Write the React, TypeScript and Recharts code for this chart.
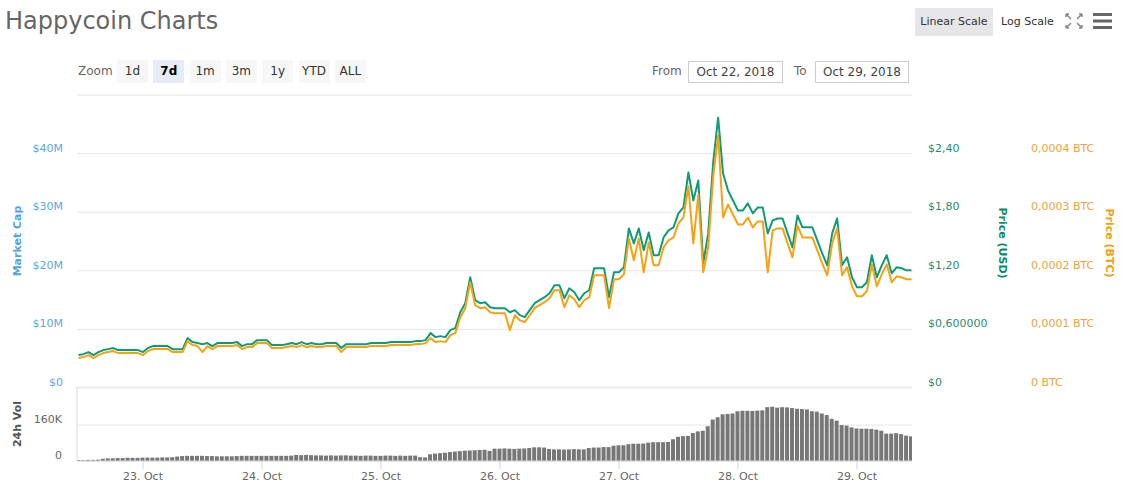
import React from 'react';
import { ComposedChart, Line, Bar, XAxis, YAxis, CartesianGrid } from 'recharts';

const FONT = '"DejaVu Sans", Verdana, sans-serif';

// hourly samples, hour 0 = 22 Oct 00:00
const startHour = 11;

// Price (USD), one value per hour from 22 Oct 11:00 to 29 Oct 11:00
const usdPrice = [
  0.337, 0.347, 0.368, 0.337, 0.368, 0.388, 0.398, 0.409, 0.388, 0.388,
  0.388, 0.388, 0.388, 0.368, 0.409, 0.429, 0.429, 0.429, 0.429, 0.398,
  0.398, 0.398, 0.511, 0.470, 0.460, 0.449, 0.460, 0.429, 0.460, 0.460,
  0.460, 0.460, 0.470, 0.429, 0.449, 0.449, 0.490, 0.490, 0.490, 0.439,
  0.439, 0.439, 0.449, 0.460, 0.449, 0.470, 0.449, 0.460, 0.449, 0.449,
  0.460, 0.460, 0.460, 0.409, 0.449, 0.449, 0.449, 0.449, 0.449, 0.460,
  0.460, 0.460, 0.460, 0.470, 0.470, 0.470, 0.470, 0.470, 0.480, 0.480,
  0.490, 0.562, 0.521, 0.531, 0.521, 0.592, 0.613, 0.776, 0.868, 1.134,
  0.899, 0.868, 0.878, 0.827, 0.817, 0.817, 0.817, 0.776, 0.797, 0.746,
  0.725, 0.797, 0.868, 0.899, 0.930, 0.970, 1.052, 1.052, 0.919, 1.021,
  0.981, 0.899, 0.970, 1.001, 1.226, 1.226, 1.226, 0.930, 1.185, 1.185,
  1.236, 1.634, 1.481, 1.634, 1.410, 1.593, 1.359, 1.359, 1.542, 1.614,
  1.645, 1.788, 1.849, 2.206, 1.920, 2.125, 1.277, 1.583, 2.308, 2.768,
  2.196, 2.022, 1.920, 1.818, 1.818, 1.890, 1.788, 1.849, 1.849, 1.583,
  1.716, 1.736, 1.736, 1.583, 1.440, 1.767, 1.645, 1.645, 1.645, 1.512,
  1.379, 1.256, 1.583, 1.736, 1.256, 1.338, 1.134, 1.032, 1.032, 1.083,
  1.359, 1.134, 1.256, 1.359, 1.175, 1.236, 1.226, 1.205, 1.205,
];

// Price (BTC) in satoshi
const btcSat = [
  5110, 5280, 5620, 5110, 5620, 5960, 6130, 6300, 5960, 5960,
  5960, 5960, 5960, 5620, 6300, 6640, 6640, 6640, 6640, 6130,
  6130, 6130, 8000, 7320, 7150, 6130, 7150, 6640, 7150, 7150,
  7150, 7150, 7320, 6640, 6980, 6980, 7660, 7660, 7660, 6810,
  6810, 6810, 6980, 7150, 6980, 7320, 6980, 7150, 6980, 6980,
  7150, 7150, 7150, 6130, 6980, 6980, 6980, 6980, 6980, 7150,
  7150, 7150, 7150, 7320, 7320, 7320, 7320, 7320, 7490, 7490,
  7660, 8510, 7830, 8000, 7830, 9020, 9360, 12080, 13620, 18040,
  14130, 13620, 13790, 12940, 12770, 12770, 12770, 9870, 12420, 11570,
  11230, 12420, 13620, 14130, 14640, 15320, 16680, 16680, 13790, 15830,
  15150, 13790, 14980, 15490, 19230, 19230, 19230, 13620, 18550, 18550,
  19400, 25530, 21790, 25530, 19740, 24850, 20930, 20930, 24000, 25190,
  25700, 28080, 29100, 34380, 24680, 33020, 19740, 24000, 36080, 43060,
  29100, 31320, 29610, 27910, 27910, 29100, 27400, 28420, 28420, 19740,
  26890, 27230, 27230, 24680, 22300, 27740, 25700, 25700, 25700, 23490,
  21280, 19230, 24680, 27230, 19230, 20590, 17360, 15660, 15660, 16510,
  21100, 17360, 19400, 21100, 18040, 19060, 18890, 18550, 18550,
];

// 24h volume, thousands
const volumeK = [
  4, 4, 5, 5, 6, 10, 12, 12, 13, 13,
  14, 14, 14, 15, 15, 15, 15, 16, 16, 17,
  20, 22, 23, 23, 23, 23, 22, 22, 21, 21,
  21, 21, 22, 23, 23, 23, 23, 23, 23, 23,
  23, 23, 23, 24, 27, 26, 27, 26, 25, 25,
  24, 25, 24, 25, 25, 24, 24, 23, 24, 24,
  23, 23, 24, 24, 23, 24, 23, 24, 24, 17,
  16, 30, 33, 35, 37, 40, 42, 44, 46, 47,
  48, 49, 50, 45, 55, 55, 56, 55, 54, 55,
  56, 58, 61, 61, 60, 54, 52, 52, 51, 52,
  53, 52, 52, 58, 60, 60, 62, 62, 68, 70,
  70, 75, 77, 77, 78, 82, 84, 84, 84, 85,
  97, 108, 111, 112, 125, 132, 135, 155, 185, 195,
  208, 210, 212, 222, 224, 224, 223, 225, 226, 240,
  242, 238, 240, 239, 236, 233, 232, 230, 222, 220,
  212, 205, 188, 180, 160, 158, 150, 145, 144, 144,
  143, 140, 135, 122, 122, 124, 120, 113, 110,
];

// the market cap scale shares its gridlines with the USD scale
const mcTickLabels = ['$0', '$10M', '$20M', '$30M', '$40M'];
const usdTicks = [0, 0.6, 1.2, 1.8, 2.4, 3.0];
const usdTickLabels = ['$0', '$0,600000', '$1,20', '$1,80', '$2,40'];
const btcTicks = [0, 10000, 20000, 30000, 40000, 50000];
const btcTickLabels = ['0 BTC', '0,0001 BTC', '0,0002 BTC', '0,0003 BTC', '0,0004 BTC'];
const volTicks = [0, 160000, 330000];
const volTickLabels = ['0', '160K'];
const dayTicks = [24, 48, 72, 96, 120, 144, 168];
const dayLabels = ['23. Oct', '24. Oct', '25. Oct', '26. Oct', '27. Oct', '28. Oct', '29. Oct'];
const zoomButtons = ['1d', '7d', '1m', '3m', '1y', 'YTD', 'ALL'];

const GREEN = '#0f9b78';
const ORANGE = '#f6a213';
const BLUE = '#5fa6dc';

const rows = usdPrice.map((usd, i) => ({
  t: startHour + i,
  usd,
  btc: btcSat[i],
  vol: volumeK[i] * 1000,
}));

const xDomain = [10.7, 179.1];

const makeTick = (ticks: number[], labels: string[], x: number, anchor: string, color: string) =>
  (props: any) => {
    const { y, payload } = props;
    const i = ticks.indexOf(payload.value);
    if (i < 0 || !labels[i]) return <g />;
    return (
      <text x={x} y={y - 2} textAnchor={anchor} fill={color} fontSize={11} fontFamily={FONT}>
        {labels[i]}
      </text>
    );
  };

// USD tick also carries the market cap label on the left side of the pane
const usdTick = (props: any) => {
  const { y, payload } = props;
  const i = usdTicks.indexOf(payload.value);
  if (i < 0 || !usdTickLabels[i]) return <g />;
  return (
    <g>
      <text x={928} y={y - 2} textAnchor="start" fill="#2b8c6d" fontSize={11} fontFamily={FONT}>
        {usdTickLabels[i]}
      </text>
      <text x={63} y={y - 2} textAnchor="end" fill={BLUE} fontSize={11} fontFamily={FONT}>
        {mcTickLabels[i]}
      </text>
    </g>
  );
};

const dayTick = (props: any) => {
  const { x, payload } = props;
  const i = dayTicks.indexOf(payload.value);
  return (
    <text x={x} y={100} textAnchor="middle" fill="#666" fontSize={11} fontFamily={FONT}>
      {dayLabels[i]}
    </text>
  );
};

const axisTitle = (text: string, x: number, y: number, angle: number, color: string) => (
  <div
    style={{
      position: 'absolute', left: x, top: y, transform: `translate(-50%, -50%) rotate(${angle}deg)`,
      whiteSpace: 'nowrap', fontFamily: FONT, fontSize: 11, fontWeight: 'bold', color, lineHeight: '13px',
    }}
  >
    {text}
  </div>
);

const App: React.FC = () => {
  return (
    <div style={{ position: 'absolute', left: 0, top: 0, width: 1131, height: 487, background: '#fff', overflow: 'hidden', fontFamily: FONT }}>
      {/* header */}
      <div style={{ position: 'absolute', left: 5, top: 9, fontSize: 24, lineHeight: '24px', color: '#666' }}>
        Happycoin Charts
      </div>
      <div style={{ position: 'absolute', left: 915, top: 8, width: 78, height: 28, background: '#e6e6e9', color: '#333', fontSize: 11, lineHeight: '28px', textAlign: 'center' }}>
        Linear Scale
      </div>
      <div style={{ position: 'absolute', left: 1001, top: 8, color: '#333', fontSize: 11, lineHeight: '28px' }}>Log Scale</div>
      <svg style={{ position: 'absolute', left: 1064, top: 12 }} width={20} height={18}>
        <g stroke="#888" strokeWidth={1.5} fill="none">
          <path d="M2 2 L7 7 M2 2 L2 5 M2 2 L5 2" />
          <path d="M18 2 L13 7 M18 2 L18 5 M18 2 L15 2" />
          <path d="M2 16 L7 11 M2 16 L2 13 M2 16 L5 16" />
          <path d="M18 16 L13 11 M18 16 L18 13 M18 16 L15 16" />
        </g>
      </svg>
      <svg style={{ position: 'absolute', left: 1093, top: 12 }} width={19} height={18}>
        <g fill="#666">
          <rect x={0} y={1} width={19} height={3} />
          <rect x={0} y={7.5} width={19} height={3} />
          <rect x={0} y={14} width={19} height={3} />
        </g>
      </svg>

      <div style={{ position: 'absolute', left: 78, top: 60, fontSize: 12, lineHeight: '23px', color: '#666' }}>Zoom</div>
      {zoomButtons.map((b, i) => (
        <div
          key={b}
          style={{
            position: 'absolute', left: 117 + i * 36.3, top: 60, width: 31, height: 23, lineHeight: '23px',
            textAlign: 'center', fontSize: 12, background: b === '7d' ? '#e6ebf5' : '#f7f7f7',
            color: b === '7d' ? '#000' : '#333', fontWeight: b === '7d' ? 'bold' : 'normal',
          }}
        >
          {b}
        </div>
      ))}
      <div style={{ position: 'absolute', left: 652, top: 60, fontSize: 12, lineHeight: '23px', color: '#666' }}>From</div>
      <div style={{ position: 'absolute', left: 688, top: 61, width: 93, height: 20, border: '1px solid #ccc', fontSize: 12, lineHeight: '20px', textAlign: 'center', color: '#444' }}>
        Oct 22, 2018
      </div>
      <div style={{ position: 'absolute', left: 794, top: 60, fontSize: 12, lineHeight: '23px', color: '#666' }}>To</div>
      <div style={{ position: 'absolute', left: 815, top: 61, width: 92, height: 20, border: '1px solid #ccc', fontSize: 12, lineHeight: '20px', textAlign: 'center', color: '#444' }}>
        Oct 29, 2018
      </div>

      {/* price pane */}
      <div style={{ position: 'absolute', left: 0, top: 0 }}>
        <ComposedChart width={1131} height={395} data={rows} margin={{ top: 95, right: 0, bottom: 7, left: 77 }}>
          <CartesianGrid yAxisId="usd" vertical={false} stroke="#e6e6e6" />
          <XAxis dataKey="t" type="number" domain={xDomain} hide allowDataOverflow />
          <YAxis yAxisId="usd" orientation="right" width={103} domain={[0, 3]} ticks={usdTicks} interval={0}
            axisLine={false} tickLine={false} tick={usdTick} />
          <YAxis yAxisId="btc" orientation="right" width={116} domain={[0, 50000]} ticks={btcTicks} interval={0}
            axisLine={false} tickLine={false} tick={makeTick(btcTicks, btcTickLabels, 1031, 'start', '#efa33a')} />
          <Line yAxisId="usd" type="linear" dataKey="usd" stroke={GREEN} strokeWidth={2} dot={false}
            strokeLinejoin="round" isAnimationActive={false} />
          <Line yAxisId="btc" type="linear" dataKey="btc" stroke={ORANGE} strokeWidth={2} dot={false}
            strokeLinejoin="round" isAnimationActive={false} />
        </ComposedChart>
      </div>

      {/* volume pane */}
      <div style={{ position: 'absolute', left: 0, top: 380 }}>
        <ComposedChart width={1131} height={107} data={rows} margin={{ top: 7, right: 219, bottom: 0, left: 0 }}>
          <CartesianGrid vertical={false} stroke="#e6e6e6" />
          <XAxis dataKey="t" type="number" domain={xDomain} ticks={dayTicks} interval={0} height={26}
            allowDataOverflow tickSize={8} tickLine={{ stroke: '#ccd6eb' }} axisLine={{ stroke: '#ccd6eb' }} tick={dayTick} />
          <YAxis orientation="left" width={77} domain={[0, 330000]} ticks={volTicks} interval={0}
            axisLine={{ stroke: '#d8d8d8' }} tickLine={false} tick={makeTick(volTicks, volTickLabels, 62, 'end', '#666')} />
          <Bar dataKey="vol" fill="#777" barSize={4} isAnimationActive={false} />
        </ComposedChart>
      </div>

      {axisTitle('Market Cap', 17, 241, -90, '#55a2dc')}
      {axisTitle('Price (USD)', 1002, 243, 90, '#0b8a66')}
      {axisTitle('Price (BTC)', 1109, 243, 90, '#f39c12')}
      {axisTitle('24h Vol', 17, 424, -90, '#555')}
    </div>
  );
};

export default App;
